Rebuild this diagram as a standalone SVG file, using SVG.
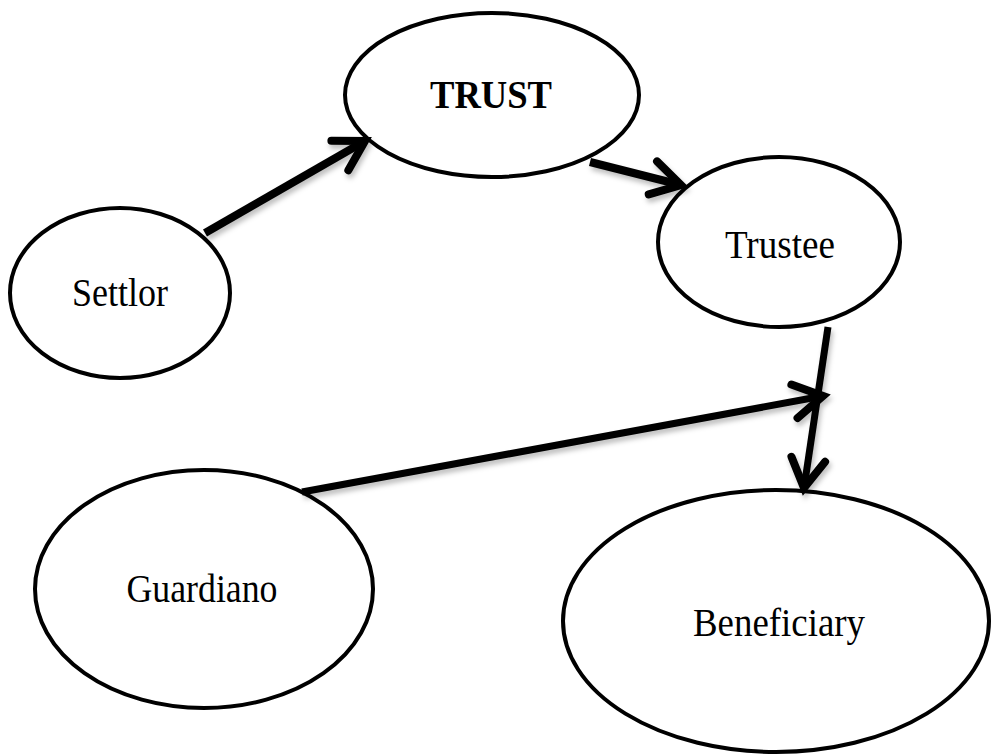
<svg xmlns="http://www.w3.org/2000/svg" width="991" height="756" viewBox="0 0 991 756">
<style>
.node ellipse{fill:#fff;stroke:#000;stroke-width:4}
.node text{font-family:"Liberation Serif","Times New Roman",serif;font-size:39px;fill:#000;text-anchor:middle}
.conn line{stroke:#000;stroke-width:7;stroke-linecap:butt}
</style>
<defs>
<filter id="sh" x="-10%" y="-10%" width="120%" height="130%">
<feDropShadow dx="2" dy="4" stdDeviation="2.5" flood-color="#000" flood-opacity="0.25"/>
</filter>
<marker id="ah" markerUnits="userSpaceOnUse" orient="auto" markerWidth="50" markerHeight="50" refX="0" refY="0" viewBox="-40 -25 50 50" overflow="visible">
<path d="M -29,-17 L 0,0 L -29,17" fill="none" stroke="#000" stroke-width="8" stroke-linecap="round" stroke-linejoin="miter"/>
</marker>
</defs>
<rect width="991" height="756" fill="#fff"/>
<g id="trust" class="node">
<ellipse cx="492" cy="95" rx="147" ry="82"/>
<text x="491" y="108" font-weight="bold" textLength="122" lengthAdjust="spacingAndGlyphs">TRUST</text>
</g>
<g id="trustee" class="node">
<ellipse cx="779" cy="242" rx="121" ry="85"/>
<text x="780" y="258" textLength="110" lengthAdjust="spacingAndGlyphs">Trustee</text>
</g>
<g id="settlor" class="node">
<ellipse cx="120" cy="293" rx="110" ry="85"/>
<text x="120" y="306" textLength="96" lengthAdjust="spacingAndGlyphs">Settlor</text>
</g>
<g id="guardiano" class="node">
<ellipse cx="204" cy="589" rx="169" ry="119"/>
<text x="202" y="602" textLength="151" lengthAdjust="spacingAndGlyphs">Guardiano</text>
</g>
<g id="beneficiary" class="node">
<ellipse cx="776" cy="621" rx="213" ry="131"/>
<text x="779" y="636" textLength="172" lengthAdjust="spacingAndGlyphs">Beneficiary</text>
</g>
<g id="connectors" class="conn" filter="url(#sh)">
<line x1="205" y1="233" x2="365" y2="141" style="stroke-width:8" marker-end="url(#ah)"/>
<line x1="590" y1="162" x2="681" y2="185" style="stroke-width:8" marker-end="url(#ah)"/>
<line x1="828" y1="327" x2="804" y2="488" marker-end="url(#ah)"/>
<line x1="302" y1="492" x2="823" y2="396" marker-end="url(#ah)"/>
</g>
</svg>
